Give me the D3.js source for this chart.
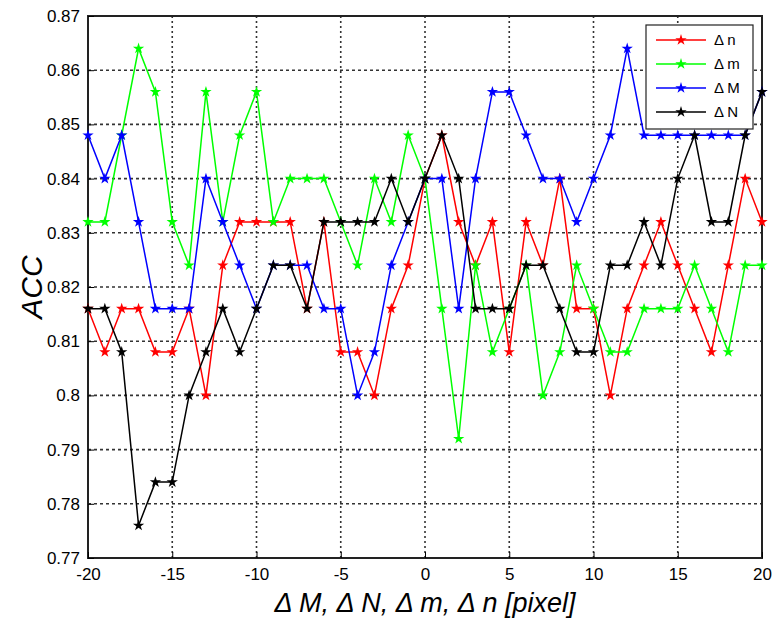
<!DOCTYPE html>
<html><head><meta charset="utf-8">
<script src="https://cdn.jsdelivr.net/npm/d3@7"></script>
<style>body{margin:0;background:#fff}text{font-family:Arial,"Liberation Sans",sans-serif}</style>
</head><body><svg id="c" width="772" height="623"></svg>
<script>
var shifts = d3.range(-20, 21);
var dn = [.816,.808,.816,.816,.808,.808,.816,.800,.824,.832,.832,.832,.832,.816,.832,.808,.808,.800,.816,.824,.840,.848,.832,.824,.832,.808,.832,.824,.840,.816,.816,.800,.816,.824,.832,.824,.816,.808,.824,.840,.832];
var dm = [.832,.832,.848,.864,.856,.832,.824,.856,.832,.848,.856,.832,.840,.840,.840,.832,.824,.840,.832,.848,.840,.816,.792,.824,.808,.816,.824,.800,.808,.824,.816,.808,.808,.816,.816,.816,.824,.816,.808,.824,.824];
var dM = [.848,.840,.848,.832,.816,.816,.816,.840,.832,.824,.816,.824,.824,.824,.816,.816,.800,.808,.824,.832,.840,.840,.816,.840,.856,.856,.848,.840,.840,.832,.840,.848,.864,.848,.848,.848,.848,.848,.848,.848,.856];
var dN = [.816,.816,.808,.776,.784,.784,.800,.808,.816,.808,.816,.824,.824,.816,.832,.832,.832,.832,.840,.832,.840,.848,.840,.816,.816,.816,.824,.824,.816,.808,.808,.824,.824,.832,.824,.840,.848,.832,.832,.848,.856];
var names = ['\u0394 n', '\u0394 m', '\u0394 M', '\u0394 N'];
var colors = ['#ff0000', '#00ff00', '#0000ff', '#000000'];
var series = [dn, dm, dM, dN];
var yTicks = [0.77,0.78,0.79,0.8,0.81,0.82,0.83,0.84,0.85,0.86,0.87];
var xTicks = [-20,-15,-10,-5,0,5,10,15,20];

var svg = d3.select('#c');
var L = 88, R = 762, T = 16, B = 558;
var x = d3.scaleLinear().domain([-20, 20]).range([L, R]);
var y = d3.scaleLinear().domain([0.77, 0.87]).range([B, T]);

// grid
svg.append('g').selectAll('line').data(xTicks.slice(1, -1)).enter().append('line')
    .attr('x1', x).attr('x2', x).attr('y1', T).attr('y2', B)
    .attr('stroke', '#333').attr('stroke-width', 1.6).attr('stroke-dasharray', '2,3');
svg.append('g').selectAll('line').data(yTicks.slice(1, -1)).enter().append('line')
    .attr('y1', y).attr('y2', y).attr('x1', L).attr('x2', R)
    .attr('stroke', '#333').attr('stroke-width', 1.6).attr('stroke-dasharray', '3,3');

svg.append('rect').attr('x', L).attr('y', T).attr('width', R - L).attr('height', B - T)
    .attr('fill', 'none').attr('stroke', '#222').attr('stroke-width', 2);

svg.append('g').attr('transform', 'translate(0,' + B + ')')
    .call(d3.axisBottom(x).tickValues(xTicks).tickFormat(function(d) { return String(d); }).tickSize(-6).tickPadding(10))
    .call(function(g) { g.select('.domain').remove(); g.selectAll('text').attr('font-size', 17).attr('fill', '#000'); });
svg.append('g').attr('transform', 'translate(' + L + ',0)')
    .call(d3.axisLeft(y).tickValues(yTicks).tickFormat(function(d) { return String(+d.toFixed(2)); }).tickSize(-6).tickPadding(8))
    .call(function(g) { g.select('.domain').remove(); g.selectAll('text').attr('font-size', 17).attr('fill', '#000'); });

var line = d3.line().x(function(d, i) { return x(shifts[i]); }).y(function(d) { return y(d); });
var star = d3.symbol().type(d3.symbolStar).size(40);

series.forEach(function(s, k) {
    svg.append('path').datum(s).attr('d', line)
        .attr('fill', 'none').attr('stroke', colors[k]).attr('stroke-width', 1.5);
    svg.append('g').selectAll('path').data(s).enter().append('path')
        .attr('d', star)
        .attr('transform', function(d, i) { return 'translate(' + x(shifts[i]) + ',' + y(d) + ')'; })
        .attr('fill', colors[k]);
});

// legend
var lg = svg.append('g').attr('transform', 'translate(646,25)');
lg.append('rect').attr('width', 107).attr('height', 104).attr('fill', '#fff').attr('stroke', '#222').attr('stroke-width', 1.2);
names.forEach(function(n, k) {
    var yy = 15 + k * 24;
    lg.append('line').attr('x1', 10).attr('x2', 60).attr('y1', yy).attr('y2', yy).attr('stroke', colors[k]).attr('stroke-width', 1.5);
    lg.append('path').attr('d', star).attr('transform', 'translate(35,' + yy + ')').attr('fill', colors[k]);
    lg.append('text').attr('x', 68).attr('y', yy + 5).attr('font-size', 15).text(n);
});

svg.append('text').attr('x', (L + R) / 2).attr('y', 612).attr('text-anchor', 'middle')
    .attr('font-size', 27).attr('font-style', 'italic').text('\u0394 M, \u0394 N, \u0394 m, \u0394 n [pixel]');
svg.append('text').attr('transform', 'translate(42,' + (T + B) / 2 + ') rotate(-90)').attr('text-anchor', 'middle')
    .attr('font-size', 30).attr('font-style', 'italic').text('ACC');
</script></body></html>
